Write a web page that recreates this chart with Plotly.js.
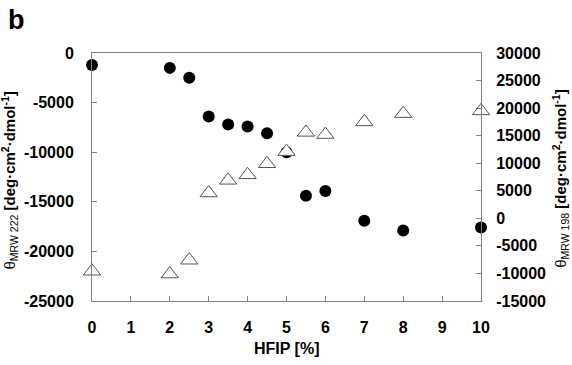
<!DOCTYPE html>
<html>
<head>
<meta charset="utf-8">
<script src="https://cdn.plot.ly/plotly-3.0.1.min.js"></script>
<style>html,body{margin:0;padding:0;background:#fff;}#chart{width:572px;height:365px;}</style>
</head>
<body>
<div id="chart"></div>
<script>
// HFIP concentration [%]
const hfip = [0, 2, 2.5, 3, 3.5, 4, 4.5, 5, 5.5, 6, 7, 8, 10];
// theta MRW 222 (left axis, filled circles)
const theta222 = [-1200, -1500, -2500, -6400, -7200, -7400, -8100, -10000, -14400, -13900, -16900, -17900, -17600];
// theta MRW 198 (right axis, open triangles)
const theta198 = [-9600, -10100, -7600, 4600, 6900, 7900, 9900, 12100, 15600, 15200, 17500, 19000, 19500];

const xTicks = [0,1,2,3,4,5,6,7,8,9,10];
const leftTickVals = [0, -5000, -10000, -15000, -20000, -25000];
const leftTickText = ["0", "-5000", "-10000", "-15000", "-20000", "-25000"];
const rightTickVals = [30000, 25000, 20000, 15000, 10000, 5000, 0, -5000, -10000, -15000];
const rightTickText = ["30000", "25000", "20000", "15000", "10000", "5000", "0", "-5000", "-10000", "-15000"];

const fam = "Arial, 'Liberation Sans', sans-serif";
const tickFont = {family: fam, size: 16, color: "#000", weight: "bold"};
const titleFont = {family: fam, size: 15, color: "#000"};
const axisColor = "#808080";

const traces = [
  {
    x: hfip, y: theta222, type: "scatter", mode: "markers", name: "θMRW 222",
    marker: {symbol: "circle", size: 12, color: "#000"},
    cliponaxis: false, yaxis: "y"
  },
  {
    x: hfip, y: theta198, type: "scatter", mode: "markers", name: "θMRW 198",
    marker: {symbol: "triangle-up", size: 15, color: "#fff", line: {color: "#555", width: 1}},
    cliponaxis: false, yaxis: "y2"
  }
];

const commonAxis = {
  showgrid: false, zeroline: false, showline: true,
  linecolor: axisColor, linewidth: 1, ticks: "inside", ticklen: 5, tickcolor: axisColor, tickwidth: 1,
  tickfont: tickFont
};

const layout = {
  width: 572, height: 365,
  margin: {l: 92, r: 91, t: 53, b: 64},
  paper_bgcolor: "#fff", plot_bgcolor: "#fff",
  showlegend: false,
  font: {family: fam, size: 14, color: "#000"},
  xaxis: Object.assign({}, commonAxis, {
    range: [0, 10], tickvals: xTicks, ticktext: xTicks.map(String),
    mirror: true, ticklabelstandoff: 12
  }),
  yaxis: Object.assign({}, commonAxis, {
    range: [-25000, 0], tickvals: leftTickVals, ticktext: leftTickText,
    ticklabelstandoff: 14
  }),
  yaxis2: Object.assign({}, commonAxis, {
    range: [-15000, 30000], tickvals: rightTickVals, ticktext: rightTickText,
    overlaying: "y", side: "right", ticklabelstandoff: 11
  }),
  annotations: [
    {text: "<b>b</b>", xref: "paper", yref: "paper", x: -0.222, y: 1.2, xanchor: "left", yanchor: "top", showarrow: false,
     font: {family: fam, size: 27, color: "#000"}},
    {text: "<b>HFIP [%]</b>", xref: "paper", yref: "paper", x: 0.5, y: -0.19, xanchor: "center", yanchor: "middle", showarrow: false,
     font: {family: fam, size: 16, color: "#000"}},
    {text: "θ<sub>MRW 222</sub> <b>[deg·cm<sup>2</sup>·dmol<sup>-1</sup>]</b>", xref: "paper", yref: "paper", x: -0.212, y: 0.484,
     xanchor: "center", yanchor: "middle", textangle: -90, showarrow: false, font: titleFont},
    {text: "θ<sub>MRW 198</sub> <b>[deg·cm<sup>2</sup>·dmol<sup>-1</sup>]</b>", xref: "paper", yref: "paper", x: 1.205, y: 0.492,
     xanchor: "center", yanchor: "middle", textangle: -90, showarrow: false, font: titleFont}
  ]
};

Plotly.newPlot("chart", traces, layout, {displayModeBar: false, staticPlot: true});
</script>
</body>
</html>
